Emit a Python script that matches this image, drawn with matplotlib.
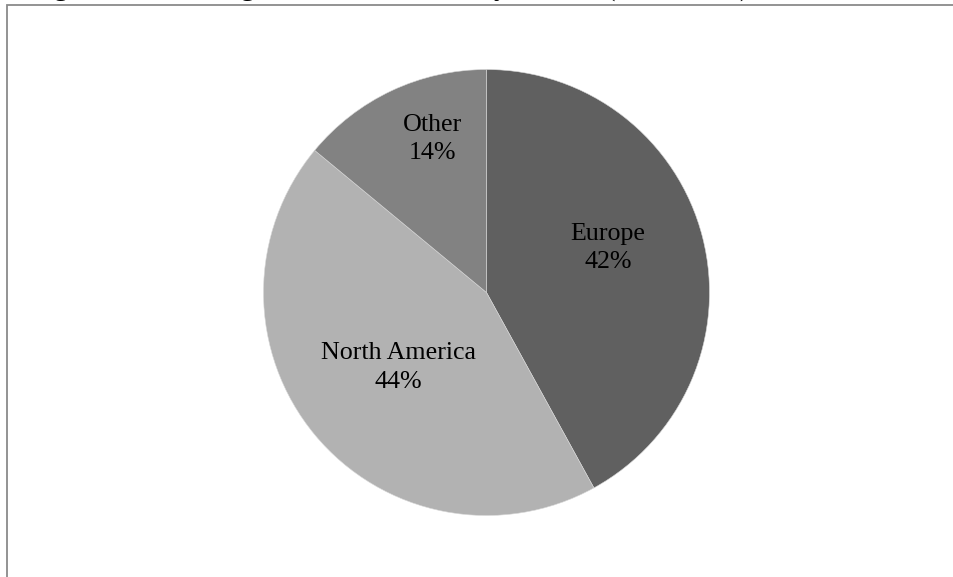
import numpy as np
import matplotlib
matplotlib.use("Agg")
import matplotlib.pyplot as plt
from matplotlib.patches import Rectangle

regions = ["Europe", "North America", "Other"]
shares = [42, 44, 14]
colors = ["#606060", "#b2b2b2", "#828282"]
title = "Figure 1: Percentage of Total Revenue by Market (2010-2015)"

# label placement (fraction of radius, angle offset in degrees from wedge middle)
label_dist = [0.58, 0.52, 0.73]
label_dang = [5.6, 0.7, -6.0]

W, H = 954, 577
fig = plt.figure(figsize=(W / 100, H / 100), dpi=100)
plt.rcParams["font.family"] = ["Liberation Serif", "DejaVu Serif"]

cx, cy, r = 486.5, 292.5, 223.0
ax = fig.add_axes([(cx - r) / W, (H - cy - r) / H, 2 * r / W, 2 * r / H])
wedges, _ = ax.pie(shares, colors=colors, startangle=90, counterclock=False,
                   radius=1.0, wedgeprops=dict(edgecolor="#d8d8d8", linewidth=0.4))
ax.set_xlim(-1, 1)
ax.set_ylim(-1, 1)
ax.set_aspect("equal")
ax.axis("off")

total = sum(shares)
for w, name, v, d, da in zip(wedges, regions, shares, label_dist, label_dang):
    mid = np.deg2rad((w.theta1 + w.theta2) / 2 + da)
    ax.text(d * np.cos(mid), d * np.sin(mid), f"{name}\n{round(100 * v / total)}%",
            ha="center", va="center", fontsize=18.7, color="black",
            linespacing=1.38)

# chart border (clipped by the image on right/bottom)
fig.patches.append(Rectangle((7 / W, -0.1), 1.2, (H - 5) / H + 0.1,
                             transform=fig.transFigure, fill=False,
                             edgecolor="#8a8a8a", linewidth=1.3))

fig.text(30 / W, (H + 4) / H, title, ha="left", va="baseline",
         fontsize=20.7, color="black")

fig.savefig("out.png", dpi=100)
